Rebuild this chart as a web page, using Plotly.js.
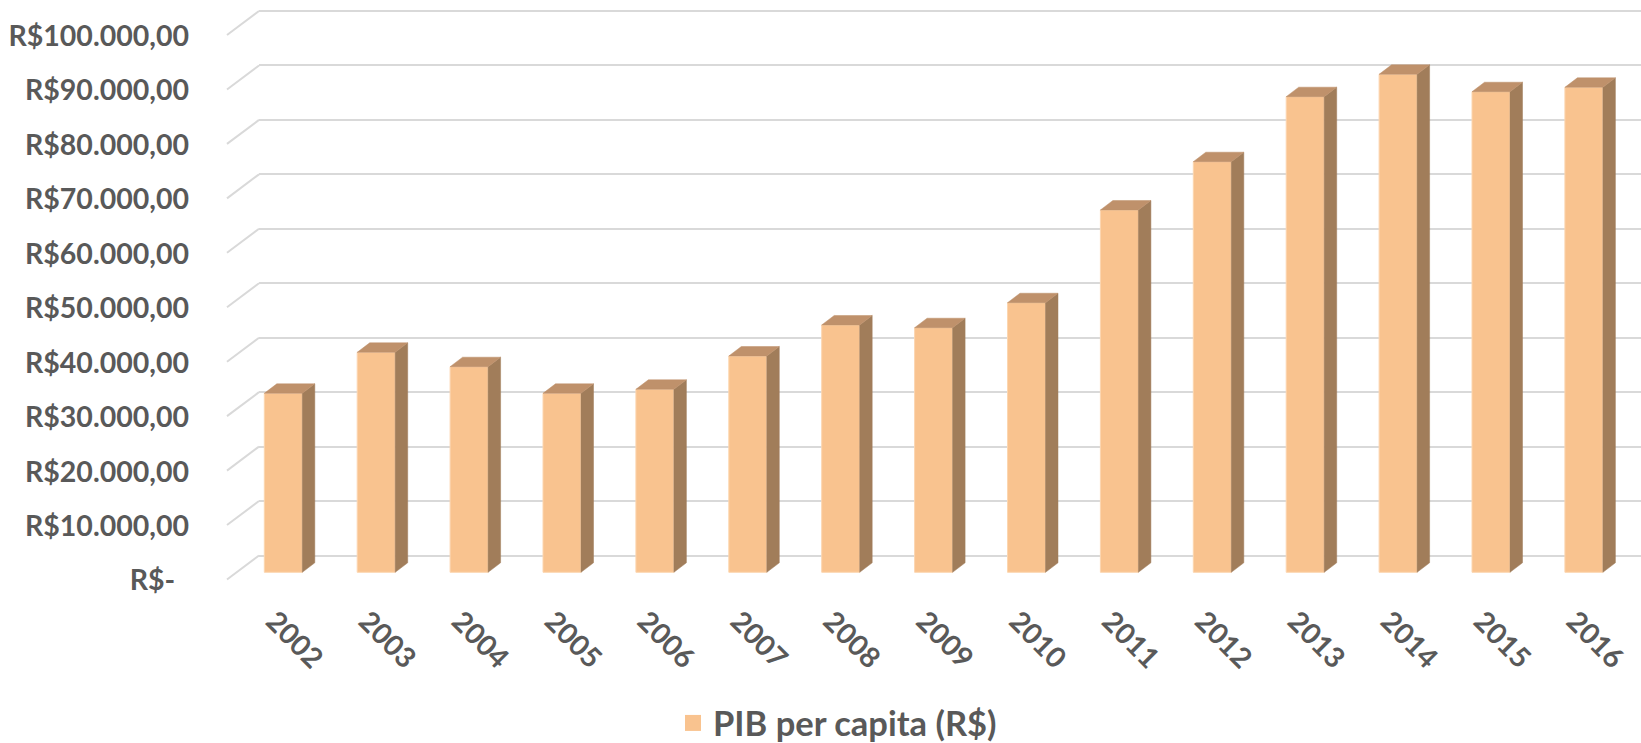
<!DOCTYPE html>
<html>
<head>
<meta charset="utf-8">
<script src="https://cdn.plot.ly/plotly-3.0.1.min.js"></script>
<style>
  html, body { margin: 0; padding: 0; background: #ffffff; }
  #chart { width: 1641px; height: 743px; }
</style>
</head>
<body>
<div id="chart"></div>
<script>
// ---- data ----
const years = ['2002','2003','2004','2005','2006','2007','2008','2009','2010','2011','2012','2013','2014','2015','2016'];
const pibPerCapita = [32870, 40400, 37760, 32870, 33610, 39720, 45420, 44920, 49510, 66540, 75410, 87350, 91460, 88260, 89070];
const seriesName = 'PIB per capita (R$)';
const yTickVals = [0, 10000, 20000, 30000, 40000, 50000, 60000, 70000, 80000, 90000, 100000];
const yTickText = ['R$-\u00a0\u00a0', 'R$10.000,00', 'R$20.000,00', 'R$30.000,00', 'R$40.000,00', 'R$50.000,00',
                   'R$60.000,00', 'R$70.000,00', 'R$80.000,00', 'R$90.000,00', 'R$100.000,00'];

// ---- layout geometry (pixels) ----
const W = 1641, H = 743;
const plotLeftPx = 259, plotBottomPx = 590;
const pxPerUnit = 0.005445;          // vertical pixels per R$
const gridZeroPx = 555.5;            // back wall zero line
const barZeroPx = 572.3;             // bar front base
const labelZeroPx = 579.5;           // side wall front edge zero
const wallFrontXPx = 227;
const firstCenterPx = 283.3, catPx = 92.9;
const barWidthPx = 38, depthDxPx = 12.5, depthDyPx = 9.5;

const xIdx = years.map((_, i) => i);
const bw = barWidthPx / catPx;
const dx = depthDxPx / catPx;
const dy = depthDyPx / pxPerUnit;

// side and top faces of the 3D columns, derived from the values
const sideX = [], sideY = [], topX = [], topY = [];
pibPerCapita.forEach((v, i) => {
  const xl = i - bw / 2, xr = i + bw / 2;
  sideX.push(xr, xr + dx, xr + dx, xr, xr, null);
  sideY.push(0, dy, v + dy, v, 0, null);
  topX.push(xl, xl + dx, xr + dx, xr, xl, null);
  topY.push(v, v + dy, v + dy, v, v, null);
});

const textColor = '#595959';
const fam = 'Lato, "Open Sans", sans-serif';
const tickFont = { family: fam, size: 28.5, color: textColor, weight: 'bold' };
const legendFont = { family: fam, size: 34.5, color: textColor, weight: 'bold' };
const frontColor = '#F9C38F';

const traces = [
  {
    type: 'bar', name: seriesName, x: xIdx, y: pibPerCapita, width: bw,
    xaxis: 'x', yaxis: 'y2', showlegend: false,
    marker: { color: frontColor, line: { color: '#FCD6B0', width: 1 } },
    hoverinfo: 'x+y'
  },
  {
    type: 'scatter', mode: 'lines', x: sideX, y: sideY, fill: 'toself',
    fillcolor: '#A17D5A', line: { color: '#A17D5A', width: 0.5 },
    xaxis: 'x', yaxis: 'y2', showlegend: false, hoverinfo: 'skip'
  },
  {
    type: 'scatter', mode: 'lines', x: topX, y: topY, fill: 'toself',
    fillcolor: '#BF916B', line: { color: '#BF916B', width: 0.5 },
    xaxis: 'x', yaxis: 'y2', showlegend: false, hoverinfo: 'skip'
  },
  {
    // legend entry for the series (larger square swatch than a bar legend gives)
    type: 'scatter', mode: 'markers', name: seriesName, x: [null], y: [null],
    xaxis: 'x', yaxis: 'y2', showlegend: true, hoverinfo: 'skip',
    marker: { symbol: 'square', size: 21, color: frontColor, line: { width: 0 } }
  }
];

const shapes = yTickVals.map(v => ({
  type: 'line', xref: 'paper', yref: 'y', layer: 'below',
  x0: wallFrontXPx / W, y0: v - (labelZeroPx - gridZeroPx) / pxPerUnit,
  x1: plotLeftPx / W, y1: v,
  line: { color: '#D9D9D9', width: 2 }
}));

const yDomain = [1 - plotBottomPx / H, 1];

const layout = {
  width: W, height: H,
  margin: { l: 0, r: 0, t: 0, b: 0, autoexpand: false },
  paper_bgcolor: '#ffffff', plot_bgcolor: 'rgba(0,0,0,0)',
  font: tickFont,
  showlegend: true,
  legend: {
    orientation: 'h', x: 0.5 + 17 / W, xanchor: 'center', y: 1 - 723 / H, yanchor: 'middle',
    font: legendFont, bgcolor: 'rgba(0,0,0,0)', itemsizing: 'trace'
  },
  xaxis: {
    type: 'linear', domain: [plotLeftPx / W, 1],
    range: [(plotLeftPx - firstCenterPx) / catPx, (W - firstCenterPx) / catPx],
    tickvals: xIdx, ticktext: years, tickangle: 45,
    showgrid: false, zeroline: false, showline: false, ticks: '',
    ticklabelstandoff: 8, ticklabelshift: -9,
    tickfont: tickFont, automargin: false, fixedrange: true
  },
  yaxis: {
    domain: yDomain,
    range: [(gridZeroPx - plotBottomPx) / pxPerUnit, gridZeroPx / pxPerUnit],
    tickvals: yTickVals, ticktext: yTickText,
    showgrid: true, gridcolor: '#D9D9D9', gridwidth: 2,
    zeroline: false, showline: false, ticks: '',
    ticklabelshift: 25,
    ticklabelstandoff: 69,
    tickfont: tickFont, automargin: false, fixedrange: true
  },
  yaxis2: {
    domain: yDomain, overlaying: 'y', anchor: 'x',
    range: [(barZeroPx - plotBottomPx) / pxPerUnit, barZeroPx / pxPerUnit],
    showgrid: false, zeroline: false, showline: false, showticklabels: false, ticks: '',
    fixedrange: true
  },
  shapes: shapes,
  bargap: 0
};

Plotly.newPlot('chart', traces, layout, { displayModeBar: false, staticPlot: true });
</script>
</body>
</html>
